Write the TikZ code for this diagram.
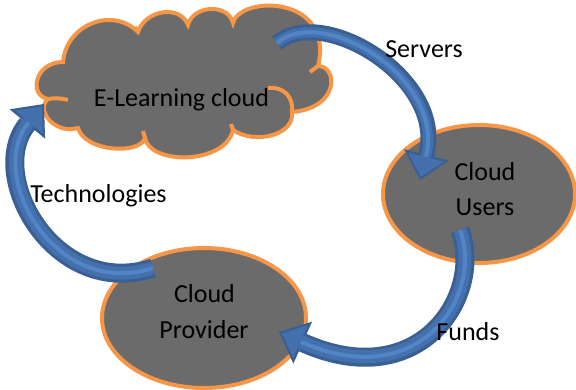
\documentclass[tikz,border=0pt]{standalone}
\usepackage{fontspec}
\setmainfont{Carlito}
\usetikzlibrary{arrows.meta,shapes.geometric}
\definecolor{cfill}{HTML}{6B6B6B}
\definecolor{corange}{HTML}{F79646}
\definecolor{adark}{HTML}{3A5F92}
\definecolor{amid}{HTML}{4470AE}
\definecolor{alight}{HTML}{5285C6}
\begin{document}
\begin{tikzpicture}[x=1pt,y=-1pt,
  shapebox/.style={draw=corange, fill=cfill, line width=4pt},
  oval/.style={shapebox, ellipse, inner sep=0pt},
  lbl/.style={font=\fontsize{26}{31}\selectfont, text=black, inner sep=0pt, anchor=base},
  hint/.style={draw=corange, line width=4pt},
  arrout/.style={draw=adark, line width=#1, -{Triangle[length=26pt,width=46pt,line width=0pt]}},
  arrin/.style={draw=amid, line width=#1, shorten >=3.5pt, -{Triangle[length=20pt,width=36pt,line width=0pt]}},
  arrhi/.style={draw=alight, line width=4pt, shorten >=24pt},
]
\useasboundingbox (0,0) rectangle (576,389);
\fill[white] (0,0) rectangle (576,389);

% cloud
\path[shapebox] (63,62)
  .. controls (66,25) and (112,6) .. (138,32)
  .. controls (145,10) and (180,4) .. (188,25)
  .. controls (193,5) and (228,3) .. (233,23)
  .. controls (240,-5) and (335,-5) .. (318,66)
  .. controls (338,66) and (340,108) .. (292,112)
  .. controls (295,135) and (255,145) .. (233,130)
  .. controls (225,165) and (150,165) .. (145,138)
  .. controls (140,155) and (85,152) .. (78,128)
  .. controls (55,135) and (35,110) .. (48,99)
  .. controls (28,95) and (35,62) .. cycle;
\draw[hint] (48,99) .. controls (54,98) and (62,98) .. (68,100);
\draw[hint] (292,112) .. controls (294,98) and (284,86) .. (268,88);
\draw[hint] (318,66) -- (310,72);
\draw[hint] (145,138) -- (143,131);
\draw[hint] (233,130) -- (231,124);
\draw[hint] (138,32) -- (135,27);

% ellipses
\node[oval, minimum width=192pt, minimum height=138pt] (users) at (479,194) {};
\node[oval, minimum width=204pt, minimum height=140pt] (prov) at (204,318) {};

% arrow end points
\coordinate (sA) at (277,43);  \coordinate (sB) at (420,180);
\coordinate (fA) at (460,230); \coordinate (fB) at (279,332);
\coordinate (tA) at (153,268); \coordinate (tB) at (44,104);

% Servers arrow
\draw[arrout=16pt] (sA) .. controls (322,4) and (446,78) .. (sB);
\draw[arrin=10pt]  (sA) .. controls (322,4) and (446,78) .. (sB);
\draw[arrhi]       (sA) .. controls (322,4) and (446,78) .. (sB);
% Funds arrow
\draw[arrout=19pt] (fA) .. controls (484,295) and (420,395) .. (fB);
\draw[arrin=13pt]  (fA) .. controls (484,295) and (420,395) .. (fB);
\draw[arrhi]       (fA) .. controls (484,295) and (420,395) .. (fB);
% Technologies arrow
\draw[arrout=19pt] (tA) .. controls (55,300) and (-15,175) .. (tB);
\draw[arrin=13pt]  (tA) .. controls (55,300) and (-15,175) .. (tB);
\draw[arrhi]       (tA) .. controls (55,300) and (-15,175) .. (tB);

% texts
\node[lbl] (elc) at (181.5,106) {E-Learning cloud};
\node[lbl] (usr1) at (485,180) {Cloud};
\node[lbl] (usr2) at (485,215) {Users};
\node[lbl] (prv1) at (204.5,302) {Cloud};
\node[lbl] (prv2) at (204,338) {Provider};
\node[lbl] (lsrv) at (424,57) {Servers};
\node[lbl] (ltech) at (98.5,202) {Technologies};
\node[lbl] (lfund) at (468,340) {Funds};
\end{tikzpicture}
\end{document}
